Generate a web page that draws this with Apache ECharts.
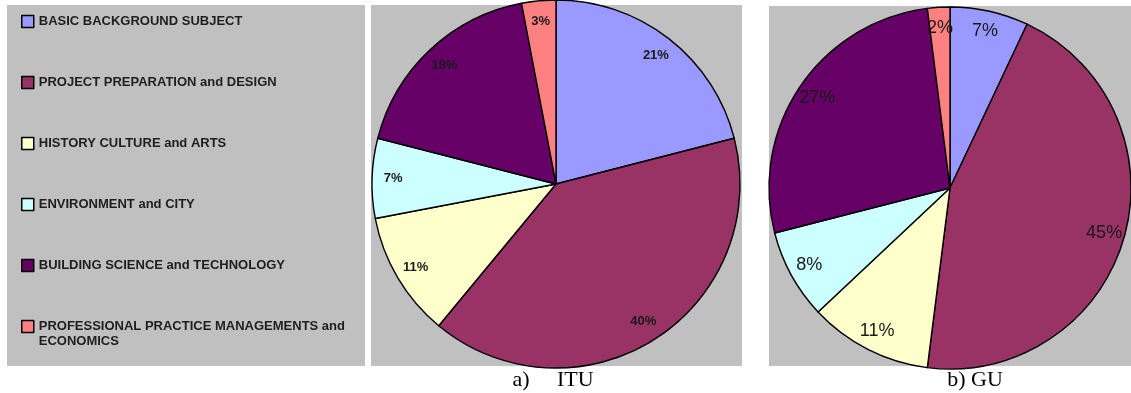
<!DOCTYPE html>
<html>
<head>
<meta charset="utf-8">
<script src="https://cdn.jsdelivr.net/npm/echarts@6/dist/echarts.min.js"></script>
<style>
  html, body { margin: 0; padding: 0; background: #fff; }
  #main { width: 1131px; height: 393px; }
</style>
</head>
<body>
<div id="main"></div>
<script>
var categories = [
    'BASIC BACKGROUND SUBJECT',
    'PROJECT PREPARATION and DESIGN',
    'HISTORY CULTURE and ARTS',
    'ENVIRONMENT and CITY',
    'BUILDING SCIENCE and TECHNOLOGY',
    'PROFESSIONAL PRACTICE MANAGEMENTS and ECONOMICS'
];
var ituValues = [21, 40, 11, 7, 18, 3];
var guValues = [7, 45, 11, 8, 27, 2];
var captions = ['a)     ITU', 'b) GU'];

var palette = ['#9999ff', '#993366', '#ffffcc', '#ccffff', '#660066', '#ff8080'];

var dom = document.getElementById('main');
var myChart = echarts.init(dom);

function toData(values) {
    return categories.map(function (name, i) {
        return { name: name, value: values[i] };
    });
}

// main pie + a transparent ring on top that only carries the labels
function pieSeries(values, center, r, labelStyle) {
    return [
        {
            type: 'pie',
            center: center,
            radius: [0, r],
            startAngle: 90,
            clockwise: true,
            silent: true,
            label: { show: false },
            labelLine: { show: false },
            itemStyle: { borderColor: '#000', borderWidth: 1.4 },
            data: toData(values)
        },
        {
            type: 'pie',
            center: center,
            radius: [Math.round(r * 0.74), r],
            startAngle: 90,
            clockwise: true,
            silent: true,
            z: 3,
            itemStyle: { color: 'rgba(0,0,0,0)', borderWidth: 0 },
            labelLine: { show: false },
            label: Object.assign({
                show: true,
                position: 'inside',
                formatter: '{c}%',
                color: '#1a1a1a',
                fontFamily: 'Liberation Sans'
            }, labelStyle),
            data: toData(values)
        }
    ];
}

var legendFont = {
    fontFamily: 'Liberation Sans',
    fontWeight: 'bold',
    fontSize: 13,
    color: '#1e1e1e'
};

option = {
    color: palette,
    animation: false,
    graphic: [
        { type: 'rect', z: -10, shape: { x: 7, y: 5, width: 358, height: 361 }, style: { fill: '#c0c0c0' } },
        { type: 'rect', z: -10, shape: { x: 371, y: 5, width: 371, height: 361 }, style: { fill: '#c0c0c0' } },
        { type: 'rect', z: -10, shape: { x: 769, y: 6, width: 362, height: 360 }, style: { fill: '#c0c0c0' } },
        {
            type: 'text', x: 553, y: 380,
            style: { text: captions[0], font: '22px "Liberation Serif"', fill: '#000', align: 'center', verticalAlign: 'middle' }
        },
        {
            type: 'text', x: 975, y: 380,
            style: { text: captions[1], font: '22px "Liberation Serif"', fill: '#000', align: 'center', verticalAlign: 'middle' }
        }
    ],
    legend: {
        orient: 'vertical',
        left: 16,
        top: 8,
        padding: 5,
        itemWidth: 12,
        itemHeight: 12,
        itemGap: 44,
        icon: 'rect',
        selectedMode: false,
        itemStyle: { borderColor: '#000', borderWidth: 1.5 },
        formatter: function (name) {
            // long name wraps; second line hangs below so the box stays level with the first line
            var cut = name.indexOf(' and ECONOMICS');
            if (cut < 0) return name;
            return '{a|' + name.slice(0, cut) + ' and}\n{b|ECONOMICS}';
        },
        textStyle: Object.assign({
            lineHeight: 17,
            rich: {
                a: Object.assign({ lineHeight: 17 }, legendFont),
                b: Object.assign({ lineHeight: 0, verticalAlign: 'top' }, legendFont)
            }
        }, legendFont),
        data: categories
    },
    series: [].concat(
        pieSeries(ituValues, [556, 184], 184, { fontSize: 13, fontWeight: 'bold' }),
        pieSeries(guValues, [950, 188], 181, { fontSize: 18, fontWeight: 'normal' })
    )
};

if (option && typeof option === 'object') {
    myChart.setOption(option, true);
}

window.addEventListener('resize', function () {
    myChart.resize();
});
</script>
</body>
</html>
